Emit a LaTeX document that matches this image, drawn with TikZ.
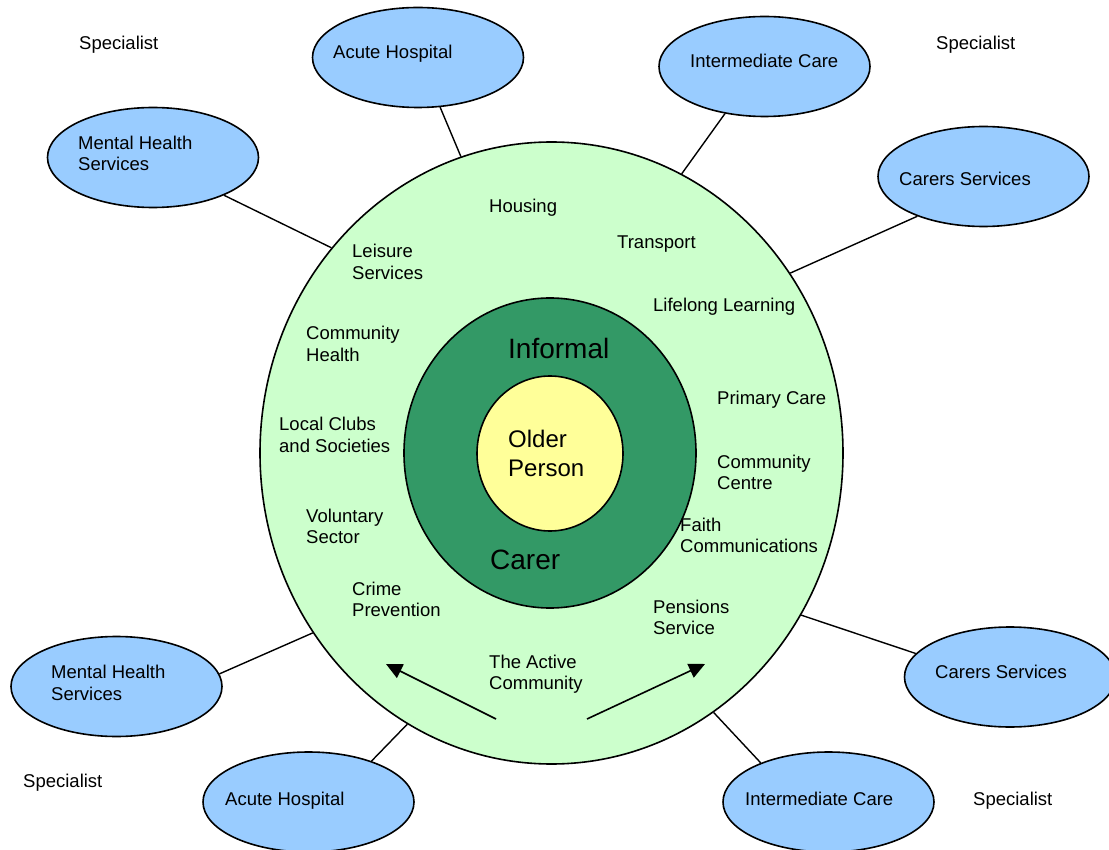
\documentclass[tikz,border=0pt]{standalone}
\usepackage{fontspec}
\setmainfont{Liberation Sans}
\usetikzlibrary{shapes.geometric,arrows.meta}
\definecolor{ringgreen}{HTML}{CCFFCC}
\definecolor{darkgreen}{HTML}{339966}
\definecolor{paleyellow}{HTML}{FFFF99}
\definecolor{skyblue}{HTML}{99CCFF}
\tikzset{
  svc/.style={ellipse, draw=black, line width=1.6pt, fill=skyblue, minimum width=211pt, minimum height=100pt, inner sep=0pt},
  txt/.style={anchor=base west, align=left, inner sep=0pt, font=\fontsize{18.5}{21.5}\selectfont},
  bigtxt/.style={anchor=base west, align=left, inner sep=0pt, font=\fontsize{28}{32}\selectfont},
  midtxt/.style={anchor=base west, align=left, inner sep=0pt, font=\fontsize{24}{29}\selectfont},
  link/.style={draw=black, line width=1.4pt},
  arr/.style={draw=black, line width=1.6pt, -{Triangle[length=16pt,width=15pt]}}
}
\begin{document}
\begin{tikzpicture}[x=1pt,y=-1pt]
\useasboundingbox (0,0) rectangle (1109,850);
% circles
\node[ellipse, draw=black, line width=1.6pt, fill=ringgreen, minimum width=583pt, minimum height=622pt, inner sep=0pt] (ring) at (551.5,453) {};
\node[ellipse, draw=black, line width=1.6pt, fill=darkgreen, minimum width=292pt, minimum height=310pt, inner sep=0pt] (carer) at (550,453) {};
\node[ellipse, draw=black, line width=1.6pt, fill=paleyellow, minimum width=146pt, minimum height=155pt, inner sep=0pt] (older) at (550,453.5) {};
% service ellipses
\node[svc] (ah1) at (418,57.5) {};
\node[svc] (ic1) at (764.5,66.5) {};
\node[svc] (cs1) at (983.5,176.5) {};
\node[svc] (mh1) at (153,157.5) {};
\node[svc] (mh2) at (116.5,686.5) {};
\node[svc] (ah2) at (308.5,802) {};
\node[svc] (ic2) at (828.5,802) {};
\node[svc] (cs2) at (1010,677) {};
% service texts
\node[txt] (tah1) at (333,58.5) {Acute Hospital};
\node[txt] (tic1) at (690,67.5) {Intermediate Care};
\node[txt] (tcs1) at (899,185.5) {Carers Services};
\node[txt] (tmh1) at (78,171) {Mental Health\\Services};
\node[txt] (tmh2) at (51,700) {Mental Health\\Services};
\node[txt] (tah2) at (225,805.5) {Acute Hospital};
\node[txt] (tic2) at (745,805.5) {Intermediate Care};
\node[txt] (tcs2) at (935,678.5) {Carers Services};
% specialist labels
\node[txt] (sp1) at (79,49.5) {Specialist};
\node[txt] (sp2) at (936,49.5) {Specialist};
\node[txt] (sp3) at (23,787.5) {Specialist};
\node[txt] (sp4) at (973,805.5) {Specialist};
% connectors
\draw[link] (ah1.-66) -- (ring.107.6);
\draw[link] (ic1.230.7) -- (ring.65);
\draw[link] (cs1.211.3) -- (ring.37.6);
\draw[link] (mh1.-28.3) -- (ring.137.8);
\draw[link] (mh2.7.4) -- (ring.217.6);
\draw[link] (ah2.33.2) -- (ring.-118);
\draw[link] (ic2.150.3) -- (ring.-58.5);
\draw[link] (cs2.166.2) -- (ring.-33.8);
% ring texts
\node[txt] (housing) at (489,213) {Housing};
\node[txt] (transport) at (617,249) {Transport};
\node[txt] (lifelong) at (653,312) {Lifelong Learning};
\node[txt] (leisure) at (352,279.5) {Leisure\\Services};
\node[txt] (commhealth) at (306,361.5) {Community\\Health};
\node[txt] (clubs) at (279,452.5) {Local Clubs\\and Societies};
\node[txt] (primary) at (717,404) {Primary Care};
\node[txt] (centre) at (717,489.5) {Community\\Centre};
\node[txt] (voluntary) at (306,543.5) {Voluntary\\Sector};
\node[txt] (faith) at (680,552.5) {Faith\\Communications};
\node[txt] (crime) at (352,616.5) {Crime\\Prevention};
\node[txt] (pensions) at (653,634.5) {Pensions\\Service};
\node[txt] (active) at (489,689.5) {The Active\\Community};
% centre texts
\node[bigtxt] (informal) at (508,359) {Informal};
\node[bigtxt] (carertxt) at (490,569) {Carer};
\node[midtxt] (person) at (508,476) {Older\\Person};
% arrows
\coordinate (la0) at (496,719);
\coordinate (la1) at (386,664);
\coordinate (ra0) at (587,719);
\coordinate (ra1) at (705,664);
\draw[arr] (la0) -- (la1);
\draw[arr] (ra0) -- (ra1);
\end{tikzpicture}
\end{document}
